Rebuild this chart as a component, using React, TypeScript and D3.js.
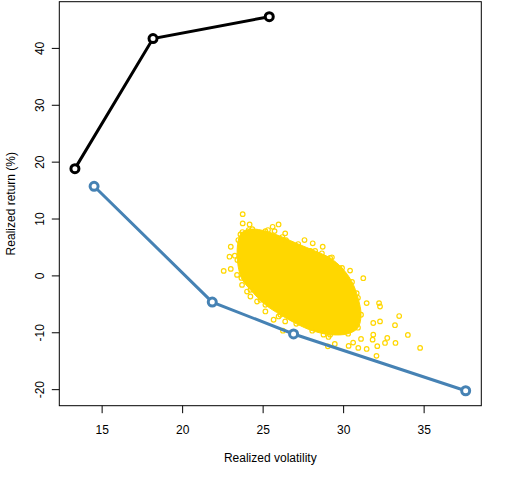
import React from 'react';
import * as d3 from 'd3';

// Realized volatility / return of the two strategy lines
const blackVol = [13.31, 18.16, 25.38];
const blackRet = [18.86, 41.73, 45.58];
const blueVol = [14.5, 21.84, 26.89, 37.58];
const blueRet = [15.76, -4.61, -10.21, -20.19];

// Dense core of the random-portfolio cloud (outline, volatility / return)
const coreVol = [23.46, 23.71, 24.33, 25.14, 26.19, 27.18, 28.23, 29.16, 29.9, 30.52, 30.89, 31.08,
  30.89, 30.28, 29.16, 28.05, 27.06, 26.07, 25.14, 24.21, 23.65, 23.4];
const coreRet = [6.3, 7.71, 8.23, 7.88, 6.83, 5.6, 4.38, 3.15, 1.4, -1.05, -3.85, -6.83,
  -9.11, -10.16, -10.33, -9.63, -8.41, -6.83, -5.08, -2.45, -0.35, 2.8];

// Scattered portfolios around the core
const cloudVol = [23.73, 23.73, 24.16, 25.96, 25.59, 25.3, 25.71, 26.37, 26.42, 27.57, 28.08, 28.7,
  22.99, 22.91, 27.94, 28.65, 22.99, 22.55, 23.59, 24.1, 23.38, 23.69, 24.0, 24.62, 25.14, 25.96,
  25.65, 26.37, 24.21, 24.83, 23.24, 29.27, 29.74, 30.4, 30.2, 31.22, 30.81, 31.43, 32.2, 32.26,
  33.45, 33.19, 33.99, 34.75, 32.71, 32.57, 33.22, 32.09, 32.04, 31.43, 30.91, 30.31, 30.59, 31.08,
  31.84, 31.8, 32.26, 31.84, 26.23, 28.75, 29.06, 29.45, 29.02];
const cloudRet = [10.86, 9.23, 9.05, 9.05, 8.63, 8.06, 7.88, 7.48, 6.3, 6.3, 5.73, 5.13,
  5.13, 3.38, 4.38, 3.97, 1.23, 0.88, 7.3, 8.06, 0.18, -1.58, -2.75, -4.5, -6.25, -7.13,
  -7.71, -8.0, -3.62, -4.2, 3.55, 3.27, 1.35, 0.93, -0.7, -0.4, -3.03, -4.78, -4.78, -5.38,
  -7.06, -8.67, -10.38, -12.66, -10.91, -11.79, -11.79, -12.35, -14.06, -12.84, -12.66, -12.31, -11.73, -11.08,
  -10.33, -11.21, -8.0, -8.28, -9.63, -10.33, -10.73, -11.96, -12.38];

const xTicks = [15, 20, 25, 30, 35];
const yTicks = [-20, -10, 0, 10, 20, 30, 40];

const W = 512;
const H = 480;
const plot = { left: 59.3, right: 481.3, top: 1.7, bottom: 405.7 };
const font = '"Liberation Sans", Arial, sans-serif';

// R-style 4% range extension
const padExtent = (vals: number[]): [number, number] => {
  const [lo, hi] = d3.extent(vals) as [number, number];
  const d = (hi - lo) * 0.04;
  return [lo - d, hi + d];
};

export default function App() {
  const x = d3.scaleLinear()
    .domain(padExtent([...blackVol, ...blueVol]))
    .range([plot.left, plot.right]);
  const y = d3.scaleLinear()
    .domain(padExtent([...blackRet, ...blueRet]))
    .range([plot.bottom, plot.top]);

  const line = d3.line<[number, number]>()
    .x(d => x(d[0]))
    .y(d => y(d[1]));

  const black = blackVol.map((v, i) => [v, blackRet[i]] as [number, number]);
  const blue = blueVol.map((v, i) => [v, blueRet[i]] as [number, number]);
  const core = coreVol.map((v, i) => [v, coreRet[i]] as [number, number]);
  const cloud = cloudVol.map((v, i) => [v, cloudRet[i]] as [number, number]);
  const coreRing = d3.line<[number, number]>()
    .x(d => x(d[0]))
    .y(d => y(d[1]))
    .curve(d3.curveCatmullRomClosed);

  const gold = '#FFD700';
  const steel = '#4682B4';

  return (
    <svg width={W} height={H} style={{ position: 'absolute', left: 0, top: 0, background: '#fff' }}
      fontFamily={font}>
      {/* cloud of random portfolios */}
      <path d={coreRing(core) || ''} fill={gold} stroke={gold} strokeWidth={1} />
      {core.map((d, i) => (
        <circle key={'k' + i} cx={x(d[0])} cy={y(d[1])} r={2.3} fill="none" stroke={gold} strokeWidth={1.2} />
      ))}
      {cloud.map((d, i) => (
        <circle key={'c' + i} cx={x(d[0])} cy={y(d[1])} r={2.3} fill="none" stroke={gold} strokeWidth={1.2} />
      ))}

      {/* strategy lines */}
      <path d={line(black) || ''} fill="none" stroke="#000" strokeWidth={3} />
      {black.map((d, i) => (
        <circle key={'b' + i} cx={x(d[0])} cy={y(d[1])} r={4} fill="#fff" stroke="#000" strokeWidth={3} />
      ))}
      <path d={line(blue) || ''} fill="none" stroke={steel} strokeWidth={3} />
      {blue.map((d, i) => (
        <circle key={'s' + i} cx={x(d[0])} cy={y(d[1])} r={4} fill="#fff" stroke={steel} strokeWidth={3} />
      ))}

      {/* box */}
      <rect x={plot.left} y={plot.top} width={plot.right - plot.left} height={plot.bottom - plot.top}
        fill="none" stroke="#000" strokeWidth={1} />

      {/* x axis */}
      {xTicks.map(t => (
        <g key={'x' + t}>
          <line x1={x(t)} x2={x(t)} y1={plot.bottom} y2={plot.bottom + 7.5} stroke="#000" />
          <text x={x(t)} y={433.5} textAnchor="middle" fontSize={12} fill="#000">{t}</text>
        </g>
      ))}
      {/* y axis */}
      {yTicks.map(t => (
        <g key={'y' + t}>
          <line x1={plot.left - 7.5} x2={plot.left} y1={y(t)} y2={y(t)} stroke="#000" />
          <text transform={`translate(43.5,${y(t)}) rotate(-90)`} textAnchor="middle" fontSize={12} fill="#000">{t}</text>
        </g>
      ))}

      <text x={(plot.left + plot.right) / 2} y={462} textAnchor="middle" fontSize={12} fill="#000">
        Realized volatility
      </text>
      <text transform={`translate(14.5,${(plot.top + plot.bottom) / 2}) rotate(-90)`} textAnchor="middle"
        fontSize={12} fill="#000">
        Realized return (%)
      </text>
    </svg>
  );
}
